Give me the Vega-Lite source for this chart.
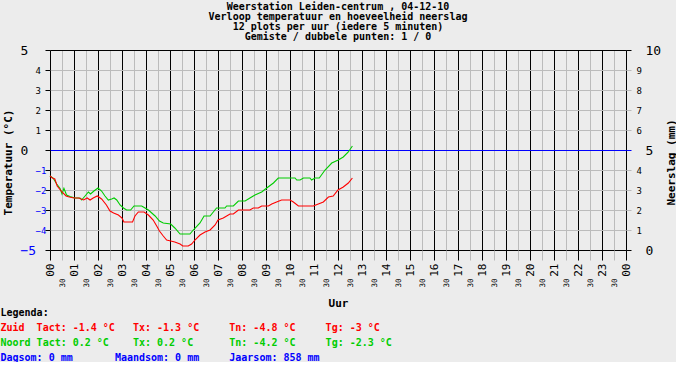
{
  "$schema": "https://vega.github.io/schema/vega-lite/v6.json",
  "background": "#ececec",
  "padding": {"left": 0, "top": 2, "right": 0, "bottom": 0},
  "config": {"view": {"stroke": null}},
  "title": {
    "text": ["Weerstation Leiden-centrum , 04-12-10", "Verloop temperatuur en hoeveelheid neerslag", "12 plots per uur (iedere 5 minuten)", "Gemiste / dubbele punten: 1 / 0"],
    "font": "DejaVu Sans Mono", "fontSize": 10, "fontWeight": "bold", "lineHeight": 10, "color": "#000000", "anchor": "middle", "offset": 2
  },
  "datasets": {
    "temperatuur": [
      {"uur": 0, "reeks": "Noord", "temp": -1.3}, {"uur": 0.14, "reeks": "Noord", "temp": -1.42}, {"uur": 0.28, "reeks": "Noord", "temp": -1.7}, {"uur": 0.42, "reeks": "Noord", "temp": -1.92}, {"uur": 0.5, "reeks": "Noord", "temp": -2.2}, {"uur": 0.58, "reeks": "Noord", "temp": -1.92}, {"uur": 0.69, "reeks": "Noord", "temp": -2.25}, {"uur": 0.83, "reeks": "Noord", "temp": -2.33}, {"uur": 1.04, "reeks": "Noord", "temp": -2.4}, {"uur": 1.25, "reeks": "Noord", "temp": -2.4}, {"uur": 1.32, "reeks": "Noord", "temp": -2.5}, {"uur": 1.46, "reeks": "Noord", "temp": -2.3}, {"uur": 1.6, "reeks": "Noord", "temp": -2.1}, {"uur": 1.69, "reeks": "Noord", "temp": -2.2}, {"uur": 1.83, "reeks": "Noord", "temp": -2.05}, {"uur": 2.0, "reeks": "Noord", "temp": -1.9}, {"uur": 2.15, "reeks": "Noord", "temp": -2.05}, {"uur": 2.29, "reeks": "Noord", "temp": -2.3}, {"uur": 2.43, "reeks": "Noord", "temp": -2.5}, {"uur": 2.57, "reeks": "Noord", "temp": -2.45}, {"uur": 2.67, "reeks": "Noord", "temp": -2.4}, {"uur": 2.78, "reeks": "Noord", "temp": -2.5}, {"uur": 2.92, "reeks": "Noord", "temp": -2.75}, {"uur": 3.06, "reeks": "Noord", "temp": -2.9}, {"uur": 3.19, "reeks": "Noord", "temp": -3.0}, {"uur": 3.36, "reeks": "Noord", "temp": -3.0}, {"uur": 3.5, "reeks": "Noord", "temp": -2.8}, {"uur": 3.82, "reeks": "Noord", "temp": -2.8}, {"uur": 3.96, "reeks": "Noord", "temp": -2.9}, {"uur": 4.1, "reeks": "Noord", "temp": -3.0}, {"uur": 4.24, "reeks": "Noord", "temp": -3.15}, {"uur": 4.38, "reeks": "Noord", "temp": -3.3}, {"uur": 4.56, "reeks": "Noord", "temp": -3.55}, {"uur": 4.72, "reeks": "Noord", "temp": -3.65}, {"uur": 5.03, "reeks": "Noord", "temp": -3.7}, {"uur": 5.2, "reeks": "Noord", "temp": -3.9}, {"uur": 5.42, "reeks": "Noord", "temp": -4.2}, {"uur": 5.83, "reeks": "Noord", "temp": -4.2}, {"uur": 5.97, "reeks": "Noord", "temp": -4.0}, {"uur": 6.25, "reeks": "Noord", "temp": -3.65}, {"uur": 6.42, "reeks": "Noord", "temp": -3.3}, {"uur": 6.67, "reeks": "Noord", "temp": -3.3}, {"uur": 6.94, "reeks": "Noord", "temp": -2.9}, {"uur": 7.29, "reeks": "Noord", "temp": -2.9}, {"uur": 7.36, "reeks": "Noord", "temp": -2.8}, {"uur": 7.64, "reeks": "Noord", "temp": -2.8}, {"uur": 7.85, "reeks": "Noord", "temp": -2.55}, {"uur": 8.13, "reeks": "Noord", "temp": -2.55}, {"uur": 8.33, "reeks": "Noord", "temp": -2.4}, {"uur": 8.54, "reeks": "Noord", "temp": -2.25}, {"uur": 8.82, "reeks": "Noord", "temp": -2.1}, {"uur": 9.03, "reeks": "Noord", "temp": -1.9}, {"uur": 9.31, "reeks": "Noord", "temp": -1.65}, {"uur": 9.51, "reeks": "Noord", "temp": -1.4}, {"uur": 10.21, "reeks": "Noord", "temp": -1.4}, {"uur": 10.28, "reeks": "Noord", "temp": -1.5}, {"uur": 10.42, "reeks": "Noord", "temp": -1.5}, {"uur": 10.56, "reeks": "Noord", "temp": -1.4}, {"uur": 10.83, "reeks": "Noord", "temp": -1.4}, {"uur": 10.9, "reeks": "Noord", "temp": -1.5}, {"uur": 11.04, "reeks": "Noord", "temp": -1.4}, {"uur": 11.22, "reeks": "Noord", "temp": -1.4}, {"uur": 11.46, "reeks": "Noord", "temp": -1.0}, {"uur": 11.74, "reeks": "Noord", "temp": -0.65}, {"uur": 12.01, "reeks": "Noord", "temp": -0.5}, {"uur": 12.22, "reeks": "Noord", "temp": -0.35}, {"uur": 12.43, "reeks": "Noord", "temp": -0.1}, {"uur": 12.6, "reeks": "Noord", "temp": 0.2},
      {"uur": 0, "reeks": "Zuid", "temp": -1.3}, {"uur": 0.1, "reeks": "Zuid", "temp": -1.4}, {"uur": 0.2, "reeks": "Zuid", "temp": -1.45}, {"uur": 0.3, "reeks": "Zuid", "temp": -1.8}, {"uur": 0.5, "reeks": "Zuid", "temp": -2.1}, {"uur": 0.67, "reeks": "Zuid", "temp": -2.3}, {"uur": 0.8, "reeks": "Zuid", "temp": -2.35}, {"uur": 1.0, "reeks": "Zuid", "temp": -2.4}, {"uur": 1.2, "reeks": "Zuid", "temp": -2.4}, {"uur": 1.4, "reeks": "Zuid", "temp": -2.5}, {"uur": 1.55, "reeks": "Zuid", "temp": -2.4}, {"uur": 1.67, "reeks": "Zuid", "temp": -2.5}, {"uur": 1.8, "reeks": "Zuid", "temp": -2.4}, {"uur": 1.97, "reeks": "Zuid", "temp": -2.3}, {"uur": 2.15, "reeks": "Zuid", "temp": -2.45}, {"uur": 2.35, "reeks": "Zuid", "temp": -2.75}, {"uur": 2.5, "reeks": "Zuid", "temp": -3.05}, {"uur": 2.65, "reeks": "Zuid", "temp": -3.15}, {"uur": 2.85, "reeks": "Zuid", "temp": -3.25}, {"uur": 3.0, "reeks": "Zuid", "temp": -3.4}, {"uur": 3.08, "reeks": "Zuid", "temp": -3.6}, {"uur": 3.44, "reeks": "Zuid", "temp": -3.6}, {"uur": 3.54, "reeks": "Zuid", "temp": -3.3}, {"uur": 3.68, "reeks": "Zuid", "temp": -3.1}, {"uur": 3.92, "reeks": "Zuid", "temp": -3.1}, {"uur": 4.1, "reeks": "Zuid", "temp": -3.25}, {"uur": 4.3, "reeks": "Zuid", "temp": -3.5}, {"uur": 4.47, "reeks": "Zuid", "temp": -3.85}, {"uur": 4.56, "reeks": "Zuid", "temp": -4.05}, {"uur": 4.72, "reeks": "Zuid", "temp": -4.3}, {"uur": 4.86, "reeks": "Zuid", "temp": -4.5}, {"uur": 5.03, "reeks": "Zuid", "temp": -4.55}, {"uur": 5.2, "reeks": "Zuid", "temp": -4.6}, {"uur": 5.42, "reeks": "Zuid", "temp": -4.7}, {"uur": 5.53, "reeks": "Zuid", "temp": -4.8}, {"uur": 5.76, "reeks": "Zuid", "temp": -4.8}, {"uur": 5.9, "reeks": "Zuid", "temp": -4.7}, {"uur": 6.04, "reeks": "Zuid", "temp": -4.5}, {"uur": 6.25, "reeks": "Zuid", "temp": -4.25}, {"uur": 6.46, "reeks": "Zuid", "temp": -4.1}, {"uur": 6.67, "reeks": "Zuid", "temp": -4.0}, {"uur": 6.88, "reeks": "Zuid", "temp": -3.75}, {"uur": 7.0, "reeks": "Zuid", "temp": -3.5}, {"uur": 7.22, "reeks": "Zuid", "temp": -3.4}, {"uur": 7.5, "reeks": "Zuid", "temp": -3.2}, {"uur": 7.64, "reeks": "Zuid", "temp": -3.2}, {"uur": 7.85, "reeks": "Zuid", "temp": -3.0}, {"uur": 8.33, "reeks": "Zuid", "temp": -3.0}, {"uur": 8.47, "reeks": "Zuid", "temp": -2.9}, {"uur": 8.68, "reeks": "Zuid", "temp": -2.9}, {"uur": 8.82, "reeks": "Zuid", "temp": -2.8}, {"uur": 9.1, "reeks": "Zuid", "temp": -2.8}, {"uur": 9.24, "reeks": "Zuid", "temp": -2.7}, {"uur": 9.44, "reeks": "Zuid", "temp": -2.6}, {"uur": 9.65, "reeks": "Zuid", "temp": -2.5}, {"uur": 10.0, "reeks": "Zuid", "temp": -2.5}, {"uur": 10.14, "reeks": "Zuid", "temp": -2.6}, {"uur": 10.35, "reeks": "Zuid", "temp": -2.8}, {"uur": 10.97, "reeks": "Zuid", "temp": -2.8}, {"uur": 11.18, "reeks": "Zuid", "temp": -2.7}, {"uur": 11.39, "reeks": "Zuid", "temp": -2.6}, {"uur": 11.6, "reeks": "Zuid", "temp": -2.35}, {"uur": 11.8, "reeks": "Zuid", "temp": -2.3}, {"uur": 12.0, "reeks": "Zuid", "temp": -2.0}, {"uur": 12.22, "reeks": "Zuid", "temp": -1.85}, {"uur": 12.43, "reeks": "Zuid", "temp": -1.65}, {"uur": 12.6, "reeks": "Zuid", "temp": -1.4}
    ],
    "neerslag": [
      {"uur": 0, "mm": 0}, {"uur": 1, "mm": 0}, {"uur": 2, "mm": 0}, {"uur": 3, "mm": 0}, {"uur": 4, "mm": 0}, {"uur": 5, "mm": 0}, {"uur": 6, "mm": 0}, {"uur": 7, "mm": 0}, {"uur": 8, "mm": 0}, {"uur": 9, "mm": 0}, {"uur": 10, "mm": 0}, {"uur": 11, "mm": 0}, {"uur": 12, "mm": 0}
    ],
    "legenda": [
      {"reeks": "Legenda", "tekst": "Legenda:"},
      {"reeks": "Zuid", "tekst": "Zuid\u00a0\u00a0Tact: -1.4 °C\u00a0\u00a0\u00a0Tx: -1.3 °C\u00a0\u00a0\u00a0\u00a0\u00a0Tn: -4.8 °C\u00a0\u00a0\u00a0\u00a0\u00a0Tg: -3 °C"},
      {"reeks": "Noord", "tekst": "Noord\u00a0Tact: 0.2 °C\u00a0\u00a0\u00a0\u00a0Tx: 0.2 °C\u00a0\u00a0\u00a0\u00a0\u00a0\u00a0Tn: -4.2 °C\u00a0\u00a0\u00a0\u00a0\u00a0Tg: -2.3 °C"},
      {"reeks": "Som", "tekst": "Dagsom: 0 mm\u00a0\u00a0\u00a0\u00a0\u00a0\u00a0\u00a0Maandsom: 0 mm\u00a0\u00a0\u00a0\u00a0\u00a0Jaarsom: 858 mm"}
    ]
  },
  "concat": [
    {
      "width": 576,
      "height": 200,
      "encoding": {
        "x": {
          "field": "uur", "type": "quantitative",
          "scale": {"domain": [0, 24], "nice": false, "zero": false, "padding": 0},
          "axis": {
            "orient": "bottom",
            "values": [0, 0.5, 1, 1.5, 2, 2.5, 3, 3.5, 4, 4.5, 5, 5.5, 6, 6.5, 7, 7.5, 8, 8.5, 9, 9.5, 10, 10.5, 11, 11.5, 12, 12.5, 13, 13.5, 14, 14.5, 15, 15.5, 16, 16.5, 17, 17.5, 18, 18.5, 19, 19.5, 20, 20.5, 21, 21.5, 22, 22.5, 23, 23.5, 24],
            "domain": false,
            "grid": true,
            "gridColor": {"condition": {"test": "datum.value % 1 === 0", "value": "#000000"}, "value": "#bbbbbb"},
            "gridWidth": 1,
            "gridOpacity": 1,
            "tickSize": 10,
            "tickWidth": 1,
            "tickColor": {"condition": {"test": "datum.value % 1 === 0", "value": "#000000"}, "value": "#bbbbbb"},
            "labelAngle": 270,
            "labelAlign": "right",
            "labelBaseline": "middle",
            "labelExpr": "datum.value % 1 === 0 ? (datum.value === 24 ? '00' : (datum.value < 10 ? '0' + datum.value : '' + datum.value)) : '30'",
            "labelFont": "DejaVu Sans Mono",
            "labelFontSize": {"condition": {"test": "datum.value % 1 === 0", "value": 11}, "value": 7.5},
            "labelPadding": {"condition": {"test": "datum.value % 1 === 0", "value": 3}, "value": 18},
            "labelColor": "#000000",
            "labelOverlap": false,
            "labelFlush": false,
            "labelBound": false,
            "title": "Uur",
            "titleFont": "DejaVu Sans Mono",
            "titleFontSize": 11,
            "titleFontWeight": "bold",
            "titleColor": "#000000",
            "titleBaseline": "alphabetic",
            "titleY": 56
          }
        }
      },
      "layer": [
        {
          "data": {"name": "neerslag"},
          "mark": {"type": "bar", "color": "#0000ff", "width": 3},
          "encoding": {
            "y": {
              "field": "mm", "type": "quantitative",
              "scale": {"domain": [0, 10], "nice": false},
              "axis": {
                "orient": "right",
                "values": [0, 1, 2, 3, 4, 5, 6, 7, 8, 9, 10],
                "domain": false,
                "grid": false,
                "tickSize": 5,
                "tickColor": {"condition": [{"test": "datum.value === 5", "value": "#0000ff"}, {"test": "datum.value === 0 || datum.value === 10", "value": "#000000"}], "value": "#bbbbbb"},
                "labelAlign": "left",
                "labelBaseline": "middle",
                "labelFont": "DejaVu Sans Mono",
                "labelFontSize": {"condition": {"test": "datum.value % 5 === 0", "value": 13}, "value": 9},
                "labelPadding": {"condition": {"test": "datum.value % 5 === 0", "value": 14}, "value": 5},
                "labelColor": "#000000",
                "title": "Neerslag (mm)",
                "titleFont": "DejaVu Sans Mono",
                "titleFontSize": 11,
                "titleFontWeight": "bold",
                "titleColor": "#000000",
                "titleAngle": 270,
                "titleAlign": "center",
                "titleBaseline": "middle",
                "titleX": 45,
                "titleY": 112
              }
            }
          }
        },
        {
          "data": {"name": "temperatuur"},
          "mark": {"type": "line", "strokeWidth": 1.1},
          "encoding": {
            "y": {
              "field": "temp", "type": "quantitative",
              "scale": {"domain": [-5, 5], "nice": false, "zero": false},
              "axis": {
                "orient": "left",
                "values": [-5, -4, -3, -2, -1, 0, 1, 2, 3, 4, 5],
                "domain": false,
                "grid": true,
                "gridColor": {"condition": [{"test": "datum.value === 0", "value": "#0000ff"}, {"test": "abs(datum.value) === 5", "value": "#000000"}], "value": "#bbbbbb"},
                "gridOpacity": 1,
                "tickSize": 5,
                "tickColor": "#000000",
                "labelAlign": "left",
                "labelBaseline": "middle",
                "labelFont": "DejaVu Sans Mono",
                "labelFontSize": {"condition": {"test": "datum.value % 5 === 0", "value": 13}, "value": 9},
                "labelPadding": {"condition": {"test": "datum.value % 5 === 0", "value": 25}, "value": 10},
                "labelColor": {"condition": {"test": "datum.value < 0", "value": "#0000ff"}, "value": "#000000"},
                "title": "Temperatuur (°C)",
                "titleFont": "DejaVu Sans Mono",
                "titleFontSize": 11,
                "titleFontWeight": "bold",
                "titleColor": "#000000",
                "titleAngle": 270,
                "titleAlign": "center",
                "titleBaseline": "middle",
                "titleX": -42,
                "titleY": 112
              }
            },
            "color": {
              "field": "reeks", "type": "nominal",
              "scale": {"domain": ["Noord", "Zuid"], "range": ["#00cc00", "#ff0000"]},
              "legend": null
            }
          }
        }
      ],
      "resolve": {"scale": {"y": "independent"}}
    },
    {
      "width": 300,
      "height": 45,
      "data": {"name": "legenda"},
      "mark": {"type": "point", "size": 0, "opacity": 0},
      "encoding": {
        "y": {
          "field": "tekst", "type": "nominal", "sort": null,
          "scale": {"type": "point", "padding": 0},
          "axis": {
            "orient": "left",
            "title": null,
            "domain": false,
            "ticks": false,
            "grid": false,
            "tickSize": 0,
            "labelAlign": "left",
            "labelBaseline": "middle",
            "labelPadding": 50,
            "labelLimit": 0,
            "labelOverlap": false,
            "labelBound": false,
            "labelFont": "DejaVu Sans Mono",
            "labelFontSize": 10,
            "labelFontWeight": "bold",
            "labelColor": {"condition": [
              {"test": "indexof(datum.value, 'Zuid') === 0", "value": "#ff0000"},
              {"test": "indexof(datum.value, 'Noord') === 0", "value": "#00cc00"},
              {"test": "indexof(datum.value, 'Dagsom') === 0", "value": "#0000ff"}
            ], "value": "#000000"}
          }
        }
      }
    }
  ],
  "columns": 1,
  "spacing": -1,
  "resolve": {"scale": {"color": "independent", "y": "independent", "x": "independent"}}
}
